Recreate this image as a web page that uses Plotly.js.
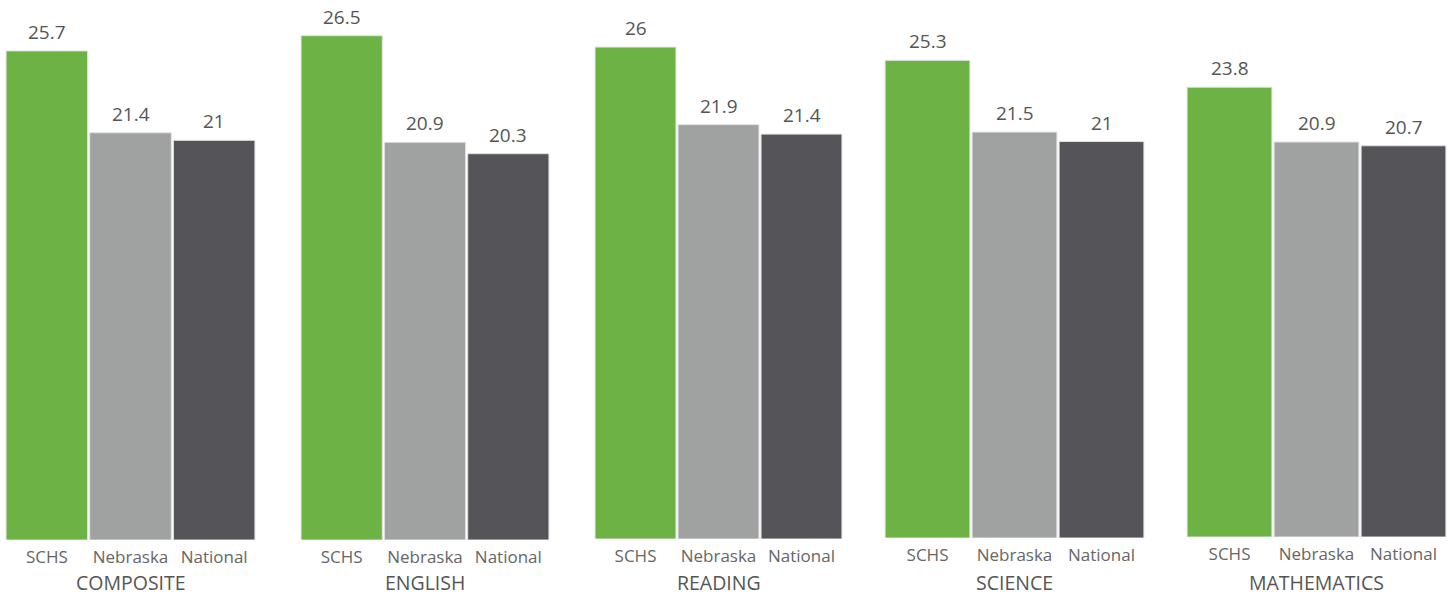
<!DOCTYPE html>
<html>
<head>
<meta charset="utf-8">
<script src="https://cdn.plot.ly/plotly-3.0.1.min.js"></script>
<style>html,body{margin:0;padding:0;background:#fff;}#chart{width:1452px;height:595px;}</style>
</head>
<body>
<div id="chart"></div>
<script>
const subjects = ["COMPOSITE", "ENGLISH", "READING", "SCIENCE", "MATHEMATICS"];
const groups = ["SCHS", "Nebraska", "National"];
const schs = [25.7, 26.5, 26, 25.3, 23.8];
const nebraska = [21.4, 20.9, 21.9, 21.5, 20.9];
const national = [21, 20.3, 21.4, 21, 20.7];

const colors = ["#6cb245", "#a0a2a1", "#555459"];
const W = 1452, H = 595;
// pixel layout of each panel: [left, right, bottom, pxPerUnit]
const panels = [
  [5, 256, 540, 19.03],
  [300, 550, 540, 19.03],
  [594, 843, 539, 18.92],
  [884, 1145, 538, 18.88],
  [1186, 1447, 537, 18.9]
];

const data = [];
const annotations = [];
const layout = {
  width: W, height: H,
  margin: {l: 0, r: 0, t: 0, b: 0},
  paper_bgcolor: "#ffffff",
  plot_bgcolor: "rgba(0,0,0,0)",
  showlegend: false,
  bargap: 0.025,
  font: {family: "Open Sans, sans-serif", color: "#666666"},
  annotations: annotations
};

subjects.forEach((s, i) => {
  const vals = [schs[i], nebraska[i], national[i]];
  const [l, r, b, ppu] = panels[i];
  const xa = i === 0 ? "x" : "x" + (i + 1);
  const ya = i === 0 ? "y" : "y" + (i + 1);
  data.push({
    type: "bar",
    x: groups,
    y: vals,
    xaxis: xa, yaxis: ya,
    marker: {color: colors, line: {color: "#e2e2e2", width: 1}},
    hoverinfo: "x+y"
  });
  layout["xaxis" + (i === 0 ? "" : i + 1)] = {
    domain: [l / W, r / W],
    anchor: ya,
    showgrid: false, zeroline: false, showline: false,
    ticks: "",
    ticklabelstandoff: 5,
    tickfont: {size: 17, color: "#666666"},
    fixedrange: true
  };
  layout["yaxis" + (i === 0 ? "" : i + 1)] = {
    domain: [(H - b) / H, 1],
    anchor: xa,
    range: [0, b / ppu],
    visible: false,
    fixedrange: true
  };
  vals.forEach((v, j) => {
    annotations.push({
      xref: xa, yref: ya,
      x: groups[j], y: v,
      text: String(v),
      showarrow: false,
      yanchor: "bottom",
      yshift: 4,
      font: {size: 19, color: "#555555"}
    });
  });
  annotations.push({
    xref: xa + " domain", yref: "paper",
    x: 0.5, y: (H - 582) / H,
    text: s,
    showarrow: false,
    borderpad: 0,
    xanchor: "center", yanchor: "middle",
    font: {size: 19.5, color: "#555555"}
  });
});

Plotly.newPlot("chart", data, layout, {displayModeBar: false, staticPlot: true});
</script>
</body>
</html>
